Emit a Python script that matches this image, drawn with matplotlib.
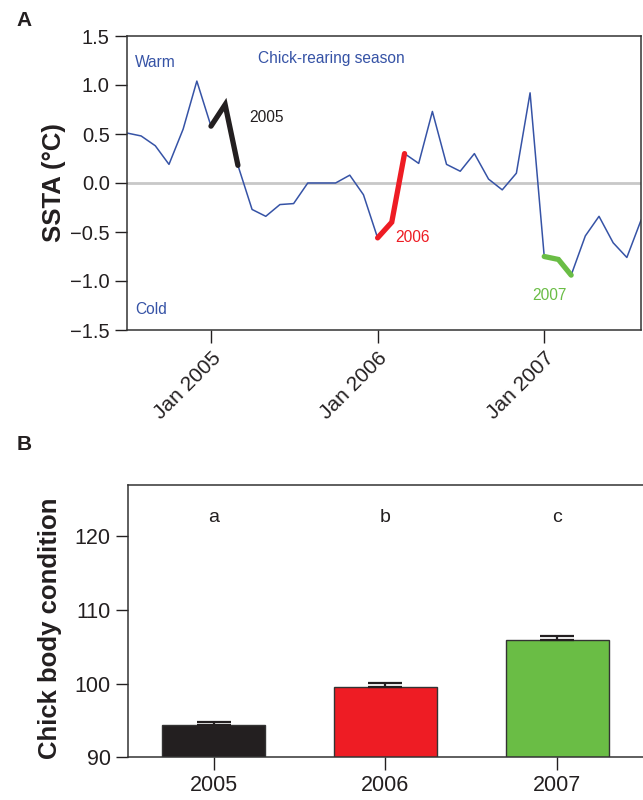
import matplotlib
matplotlib.use("Agg")
import matplotlib.pyplot as plt
import matplotlib.dates as mdates
import numpy as np
import pandas as pd

plt.rcParams['font.family'] = ['Liberation Sans', 'DejaVu Sans']

# ---- Panel A data: monthly SSTA (Jul 2004 - Aug 2007)
months = pd.date_range("2004-07-01", "2007-08-01", freq="MS")
ssta = [0.51, 0.48, 0.38, 0.19, 0.55, 1.04,            # Jul-Dec 2004
        0.58, 0.80, 0.18, -0.27, -0.34, -0.22,         # Jan-Jun 2005
        -0.21, 0.00, 0.00, 0.00, 0.08, -0.12,          # Jul-Dec 2005
        -0.56, -0.40, 0.30, 0.20, 0.73, 0.19,          # Jan-Jun 2006
        0.12, 0.30, 0.04, -0.07, 0.10, 0.92,           # Jul-Dec 2006
        -0.75, -0.78, -0.94, -0.54, -0.34, -0.61,      # Jan-Jun 2007
        -0.76, -0.38]                                  # Jul-Aug 2007
season_years = ["2005", "2006", "2007"]
season_colors = ["#231F20", "#EE1C24", "#6ABD45"]
yticks_a = [1.5, 1.0, 0.5, 0.0, -0.5, -1.0, -1.5]

# ---- Panel B data
years_b = ["2005", "2006", "2007"]
condition = [94.35, 99.5, 105.9]
cond_err = [0.4, 0.6, 0.6]
letters = ["a", "b", "c"]

series = pd.Series(ssta, index=months)
blue = "#3653A6"
ink = "#231F20"

fig = plt.figure(figsize=(6.43, 8.0), dpi=100)

# ---------------- Panel A ----------------
axA = fig.add_axes([0.1975, 0.5875, 0.7994, 0.3675])
axA.axhline(0, color="#C8C8C8", lw=2, zorder=1)
axA.plot(series.index, series.values, color=blue, lw=1.1, zorder=2)
for yr, col in zip(season_years, season_colors):
    seg = series[f"{yr}-01-01":f"{yr}-03-01"]
    axA.plot(seg.index, seg.values, color=col, lw=3.8, solid_capstyle="round",
             solid_joinstyle="miter", zorder=3)
axA.set_xlim(months[0], months[-1])
axA.set_ylim(-1.5, 1.5)
axA.set_yticks(yticks_a)
axA.set_yticklabels([f"{v:.1f}".replace("-", "\u2212") for v in yticks_a])
axA.xaxis.set_major_locator(mdates.YearLocator(month=1, day=1))
axA.xaxis.set_major_formatter(mdates.DateFormatter("Jan %Y"))
axA.tick_params(axis="both", direction="out", length=9, width=1, colors=ink,
                labelsize=14.5, labelcolor=ink)
axA.tick_params(axis="x", pad=4, labelsize=15)
for lab in axA.get_xticklabels():
    lab.set_rotation(45)
    lab.set_ha("right")
    lab.set_va("top")
    lab.set_rotation_mode("anchor")
for s in axA.spines.values():
    s.set_color("#333333")
    s.set_linewidth(1.1)
axA.set_ylabel("SSTA (\u00b0C)", fontsize=18.5, fontweight="bold", color=ink, labelpad=6)
axA.yaxis.set_label_coords(-0.119, 0.5)
axA.text(0.016, 0.909, "Warm", transform=axA.transAxes, color=blue, fontsize=11.2, va="center")
axA.text(0.016, 0.071, "Cold", transform=axA.transAxes, color=blue, fontsize=11.2, va="center")
axA.text(0.255, 0.922, "Chick-rearing season", transform=axA.transAxes, color=blue,
         fontsize=11.2, va="center")
label_pos = [(0.237, 0.722), (0.521, 0.313), (0.789, 0.119)]
for yr, col, (lx, ly) in zip(season_years, season_colors, label_pos):
    axA.text(lx, ly, yr, transform=axA.transAxes, color=col, fontsize=11.2, va="center")

# ---------------- Panel B ----------------
axB = fig.add_axes([0.199, 0.0534, 0.801, 0.3406])
x = np.arange(len(years_b))
axB.bar(x, condition, width=0.6, color=season_colors, edgecolor="#333333", lw=1, zorder=2)
axB.errorbar(x, condition, yerr=[np.zeros(len(cond_err)), cond_err], fmt="none",
             ecolor=ink, elinewidth=1.6, capsize=12, capthick=1.6, zorder=3)
for xi, l in zip(x, letters):
    axB.text(xi, 121.9, l, ha="center", va="baseline", fontsize=14, color=ink)
axB.set_xlim(-0.5, 2.5)
axB.set_ylim(90, 127)
axB.set_xticks(x)
axB.set_xticklabels(years_b)
axB.set_yticks([90, 100, 110, 120])
axB.tick_params(axis="both", direction="out", length=9, width=1, colors=ink,
                labelsize=15.5, labelcolor=ink)
axB.spines["right"].set_visible(False)
for s in axB.spines.values():
    s.set_color("#333333")
    s.set_linewidth(1.1)
axB.set_ylabel("Chick body condition", fontsize=18.5, fontweight="bold", color=ink)
axB.yaxis.set_label_coords(-0.128, 0.473)

fig.text(24 / 643, 1 - 21 / 800, "A", fontsize=15, fontweight="bold", ha="center", va="center", color=ink)
fig.text(24 / 643, 1 - 445 / 800, "B", fontsize=15, fontweight="bold", ha="center", va="center", color=ink)

fig.savefig("out.png", dpi=100)
